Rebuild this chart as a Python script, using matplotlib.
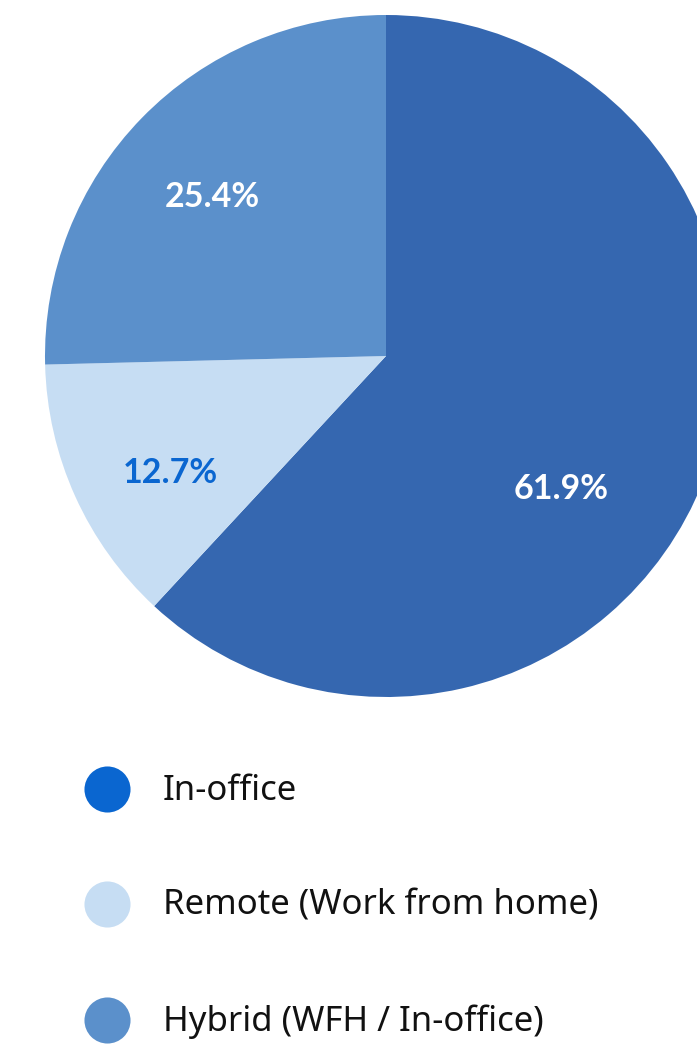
import matplotlib
matplotlib.use("Agg")
import matplotlib.pyplot as plt
import numpy as np

# work arrangement shares (%)
categories = ["In-office", "Remote (Work from home)", "Hybrid (WFH / In-office)"]
shares = [61.9, 12.7, 25.4]

slice_colors = ["#3567B0", "#C6DDF3", "#5B90CB"]
legend_colors = ["#0A66D0", "#C6DDF3", "#5B90CB"]
label_colors = ["white", "#0A66D0", "white"]
# where each percentage sits: (angle in degrees, fraction of radius)
label_pos = [(-36.6, 0.64), (-152.0, 0.715), (137.0, 0.695)]

W, H = 697, 1046
fig = plt.figure(figsize=(W / 100, H / 100), dpi=100)

# pie axes, sized in pixels so the circle runs past the right edge
cx, cy, r = 386, 356, 341
ax = fig.add_axes([(cx - r) / W, 1 - (cy + r) / H, 2 * r / W, 2 * r / H])
ax.pie(shares, colors=slice_colors, startangle=90, counterclock=False,
       radius=1, wedgeprops=dict(linewidth=0))
ax.set_xlim(-1, 1)
ax.set_ylim(-1, 1)
ax.set_aspect("auto")
ax.axis("off")
for s, (ang, rr), c in zip(shares, label_pos, label_colors):
    t = np.deg2rad(ang)
    ax.text(rr * np.cos(t), rr * np.sin(t) - 0.008, f"{s}%", color=c,
            ha="center", va="center", fontsize=24.5, fontweight="bold",
            family="Lato")

# legend drawn by hand
lax = fig.add_axes([0, 0, 1, 1])
lax.set_xlim(0, W)
lax.set_ylim(H, 0)
lax.axis("off")
rows = [789, 904, 1020]
for y, name, c in zip(rows, categories, legend_colors):
    lax.scatter([107], [y], s=46 ** 2 * 0.52, color=c, linewidths=0)
    lax.text(163, y + 2, name, fontsize=25, va="center", ha="left",
             color="#111111", family="Noto Sans")

fig.savefig("out.png", dpi=100, facecolor="white")
